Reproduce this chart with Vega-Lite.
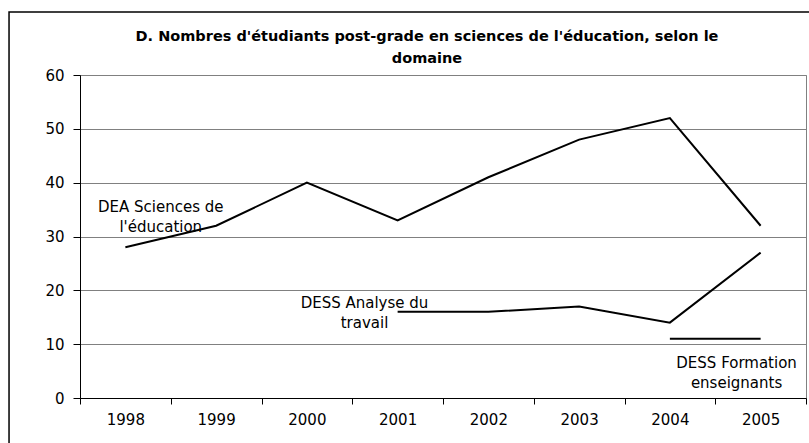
{
  "$schema": "https://vega.github.io/schema/vega-lite/v6.json",
  "width": 726,
  "height": 323,
  "autosize": {"type": "none"},
  "padding": {"left": 80, "top": 75, "right": 3, "bottom": 45},
  "background": "white",
  "title": {
    "text": ["D. Nombres d'étudiants post-grade en sciences de l'éducation, selon le", "domaine"],
    "font": "DejaVu Sans",
    "fontSize": 14.5,
    "fontWeight": "bold",
    "color": "black",
    "anchor": "middle",
    "dx": -16,
    "offset": -55,
    "lineHeight": 22
  },
  "config": {
    "view": {"stroke": "#808080", "strokeWidth": 1},
    "axis": {"labelFont": "DejaVu Sans", "labelFontSize": 15, "labelColor": "black"}
  },
  "datasets": {
    "series": [
      {"serie": "DEA Sciences de l'éducation", "annee": "1998", "valeur": 28},
      {"serie": "DEA Sciences de l'éducation", "annee": "1999", "valeur": 32},
      {"serie": "DEA Sciences de l'éducation", "annee": "2000", "valeur": 40},
      {"serie": "DEA Sciences de l'éducation", "annee": "2001", "valeur": 33},
      {"serie": "DEA Sciences de l'éducation", "annee": "2002", "valeur": 41},
      {"serie": "DEA Sciences de l'éducation", "annee": "2003", "valeur": 48},
      {"serie": "DEA Sciences de l'éducation", "annee": "2004", "valeur": 52},
      {"serie": "DEA Sciences de l'éducation", "annee": "2005", "valeur": 32},
      {"serie": "DESS Analyse du travail", "annee": "2001", "valeur": 16},
      {"serie": "DESS Analyse du travail", "annee": "2002", "valeur": 16},
      {"serie": "DESS Analyse du travail", "annee": "2003", "valeur": 17},
      {"serie": "DESS Analyse du travail", "annee": "2004", "valeur": 14},
      {"serie": "DESS Analyse du travail", "annee": "2005", "valeur": 27},
      {"serie": "DESS Formation enseignants", "annee": "2004", "valeur": 11},
      {"serie": "DESS Formation enseignants", "annee": "2005", "valeur": 11}
    ],
    "etiquettes": [
      {"texte": ["DEA Sciences de", "l'éducation"], "x": 1998.39, "y": 35.5},
      {"texte": ["DESS Analyse du", "travail"], "x": 2000.635, "y": 17.65},
      {"texte": ["DESS Formation", "enseignants"], "x": 2004.735, "y": 6.5}
    ],
    "cadre": [
      {"x": 1996.718, "x2": 2005.6, "y": 71.7, "y2": -10}
    ]
  },
  "layer": [
    {
      "data": {"name": "series"},
      "mark": {"type": "line", "color": "black", "strokeWidth": 2},
      "encoding": {
        "x": {
          "field": "annee", "type": "ordinal",
          "scale": {"paddingInner": 0, "paddingOuter": 0},
          "axis": {
            "title": null, "labelAngle": 0, "tickBand": "extent",
            "domainColor": "black", "tickColor": "black", "tickSize": 6,
            "labelPadding": 8, "grid": false
          }
        },
        "y": {
          "field": "valeur", "type": "quantitative",
          "scale": {"domain": [0, 60], "nice": false},
          "axis": {
            "title": null, "values": [0, 10, 20, 30, 40, 50, 60],
            "grid": true, "gridColor": "#808080", "gridOpacity": 1,
            "domainColor": "black", "tickColor": "black", "tickSize": 7,
            "labelPadding": 9
          }
        },
        "detail": {"field": "serie"}
      }
    },
    {
      "data": {"name": "etiquettes"},
      "mark": {"type": "text", "font": "DejaVu Sans", "fontSize": 15, "color": "black", "align": "center", "baseline": "middle", "lineHeight": 20},
      "encoding": {
        "x": {"field": "x", "type": "quantitative", "scale": {"domain": [1997.5, 2005.5], "nice": false, "zero": false}, "axis": null},
        "y": {"field": "y", "type": "quantitative"},
        "text": {"field": "texte"}
      }
    },
    {
      "data": {"name": "cadre"},
      "mark": {"type": "rect", "fill": null, "stroke": "black", "strokeWidth": 1.5, "clip": false},
      "encoding": {
        "x": {"field": "x", "type": "quantitative", "scale": {"domain": [1997.5, 2005.5], "nice": false, "zero": false}, "axis": null},
        "x2": {"field": "x2"},
        "y": {"field": "y", "type": "quantitative"},
        "y2": {"field": "y2"}
      }
    }
  ],
  "resolve": {"scale": {"x": "independent"}}
}
